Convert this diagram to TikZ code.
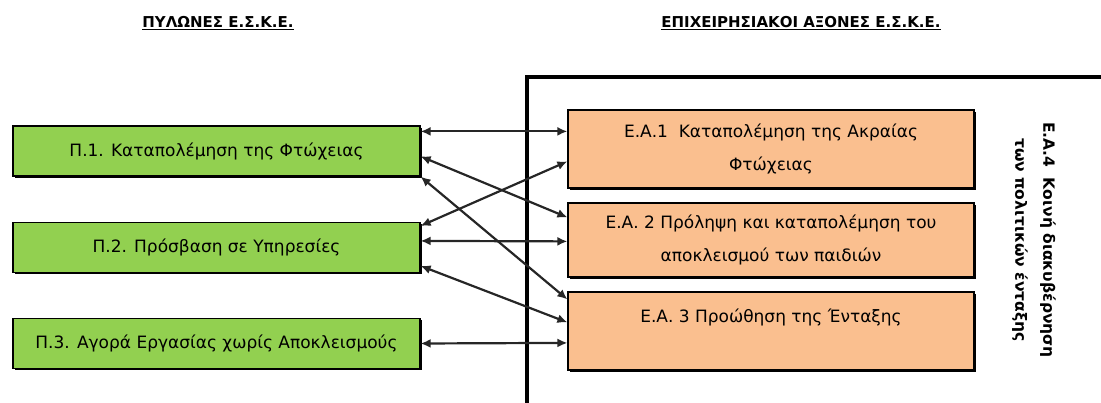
\documentclass[tikz,border=0pt]{standalone}
\usepackage{fontspec}
\setmainfont{DejaVu Sans}
\usetikzlibrary{calc,arrows.meta,shadows}
\definecolor{P}  {RGB}{146,208, 80}
\definecolor{EA} {RGB}{250,191,143}
\tikzset{%
  link/.style = {
    <->,
    > = {Latex[length = 10pt, width = 9pt]},
    line width = 2.2pt,
    draw = #1,
  },
  link/.default = {black!85},
  pbox/.style = {
    draw = black,
    line width = 1.2pt,
    fill = #1,
    drop shadow = {shadow xshift = 1.8pt, shadow yshift = -1.8pt,
                   opacity = 1, fill = black},
    align = center,
    inner sep = 0pt,
    minimum width = 407pt,
    minimum height = 50pt,
    font = \fontsize{17}{33}\selectfont,
  },
  pbox/.default = {P},
  eabox/.style = {
    pbox = EA,
    minimum width = 406pt,
    minimum height = #1,
  },
  heading/.style = {
    inner sep = 0pt,
    font = \fontsize{15}{28}\selectfont\bfseries,
  },
}

\begin{document}
\begin{tikzpicture}[x = 1pt, y = -1pt]
  \useasboundingbox (0,0) rectangle (1101,403);

  % headings
  \node[heading] (hp)  at (218,23) {\underline{ΠΥΛΩΝΕΣ Ε.Σ.Κ.Ε.}};
  \node[heading] (hea) at (801,23) {\underline{ΕΠΙΧΕΙΡΗΣΙΑΚΟΙ ΑΞΟΝΕΣ Ε.Σ.Κ.Ε.}};

  % frame of the axes
  \coordinate (fb) at (527,403);
  \coordinate (fc) at (527,77);
  \coordinate (fr) at (1101,77);
  \draw[line width = 3.5pt] (fb) -- (fc) -- (fr);

  % pillars
  \node[pbox] (p1) at (216.5,151)   {Π.1. Καταπολέμηση της Φτώχειας};
  \node[pbox] (p2) at (216.5,247.5) {Π.2. Πρόσβαση σε Υπηρεσίες};
  \node[pbox] (p3) at (216.5,343.5) {Π.3. Αγορά Εργασίας χωρίς Αποκλεισμούς};

  % axes
  \node[eabox = 78pt] (ea1) at (771,149)
    {Ε.Α.1\ \ Καταπολέμηση της Ακραίας \\ Φτώχειας};
  \node[eabox = 74pt] (ea2) at (771,240)
    {Ε.Α. 2 Πρόληψη και καταπολέμηση του \\ αποκλεισμού των παιδιών};
  \node[eabox = 78pt, text depth = 31pt] (ea3) at (771,331)
    {Ε.Α. 3 Προώθηση της Ένταξης};
  \node[heading, rotate = -90, align = center,
        font = \fontsize{15.5}{28}\selectfont\bfseries] (ea4) at (1034,240)
    {Ε.Α.4\ \ Κοινή διακυβέρνηση \\ των πολιτικών ένταξης};

  % links
  \draw[link] ([yshift=-6pt]p1.north east)  -- ([yshift=-22pt]ea1.north west);
  \draw[link] ([yshift=-31pt]p1.north east) -- ([yshift=-15pt]ea2.north west);
  \draw[link] (p1.south east)               -- ([yshift=-8pt]ea3.north west);
  \draw[link] ([yshift=-52pt]ea1.north west) -- ([yshift=-4pt]p2.north east);
  \draw[link] ([yshift=-19pt]p2.north east) -- ([yshift=-39pt]ea2.north west);
  \draw[link] ([yshift=-44pt]p2.north east) -- ([yshift=-31pt]ea3.north west);
  \draw[link] (p3.east)                     -- ([yshift=-51.5pt]ea3.north west);
\end{tikzpicture}
\end{document}
